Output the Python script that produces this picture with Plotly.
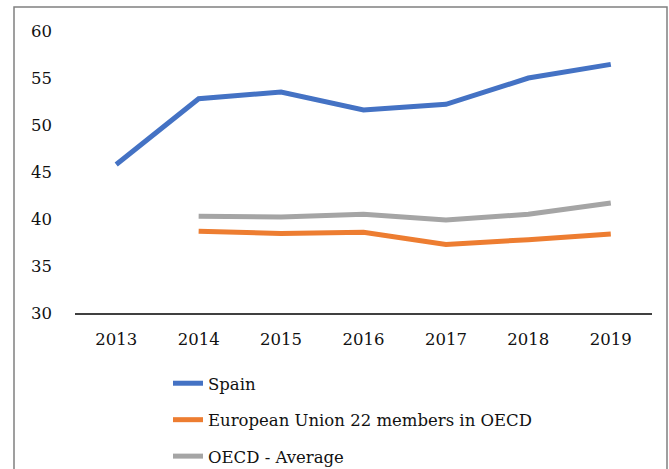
import plotly.graph_objects as go

years = ["2013", "2014", "2015", "2016", "2017", "2018", "2019"]
spain = [45.8, 52.8, 53.5, 51.6, 52.2, 55.0, 56.45]
eu22 = [None, 38.7, 38.45, 38.6, 37.3, 37.8, 38.4]
oecd = [None, 40.3, 40.2, 40.5, 39.9, 40.5, 41.7]
y_ticks = [30, 35, 40, 45, 50, 55, 60]

FONT = "DejaVu Serif"
TXT = "#111111"

fig = go.Figure()
series = [
    ("Spain", spain, "#4472C4"),
    ("European Union 22 members in OECD", eu22, "#ED7D31"),
    ("OECD - Average", oecd, "#A5A5A5"),
]
for i, (name, vals, col) in enumerate(series):
    fig.add_trace(go.Scatter(
        x=years, y=vals, name=name, mode="lines",
        line=dict(color=col, width=5),
        legendgroup=f"g{i}", connectgaps=False,
    ))

fig.update_layout(
    width=669, height=469,
    margin=dict(l=75, r=17, t=31, b=156, autoexpand=False),
    paper_bgcolor="white", plot_bgcolor="white",
    font=dict(family=FONT, size=16.5, color=TXT),
    showlegend=True,
    legend=dict(
        orientation="v", xref="container", yref="container",
        x=168 / 669, y=1 - 366 / 469, xanchor="left", yanchor="top",
        tracegroupgap=12, traceorder="grouped",
        font=dict(family=FONT, size=16.5, color=TXT),
        itemwidth=30, bgcolor="rgba(0,0,0,0)",
    ),
    xaxis=dict(
        type="category", range=[-0.5, 6.5], tickangle=0,
        showgrid=False, showline=True, linecolor="#404040", linewidth=1.5,
        ticks="", ticklabelstandoff=10, zeroline=False,
    ),
    yaxis=dict(
        range=[30, 60], tickvals=y_ticks, showgrid=False, showline=False,
        zeroline=False, ticks="", ticklabelstandoff=22,
    ),
    shapes=[dict(
        type="rect", xref="paper", yref="paper",
        x0=(14 - 75) / 577, x1=(667 - 75) / 577,
        y0=(312.7 - 475) / 281.7, y1=(312.7 - 7) / 281.7,
        line=dict(color="#808080", width=1.5), fillcolor="rgba(0,0,0,0)",
        layer="below",
    )],
)

fig.write_html(
    "out.html",
    config={"displayModeBar": False},
    post_script="document.body.style.margin='0';",
)
